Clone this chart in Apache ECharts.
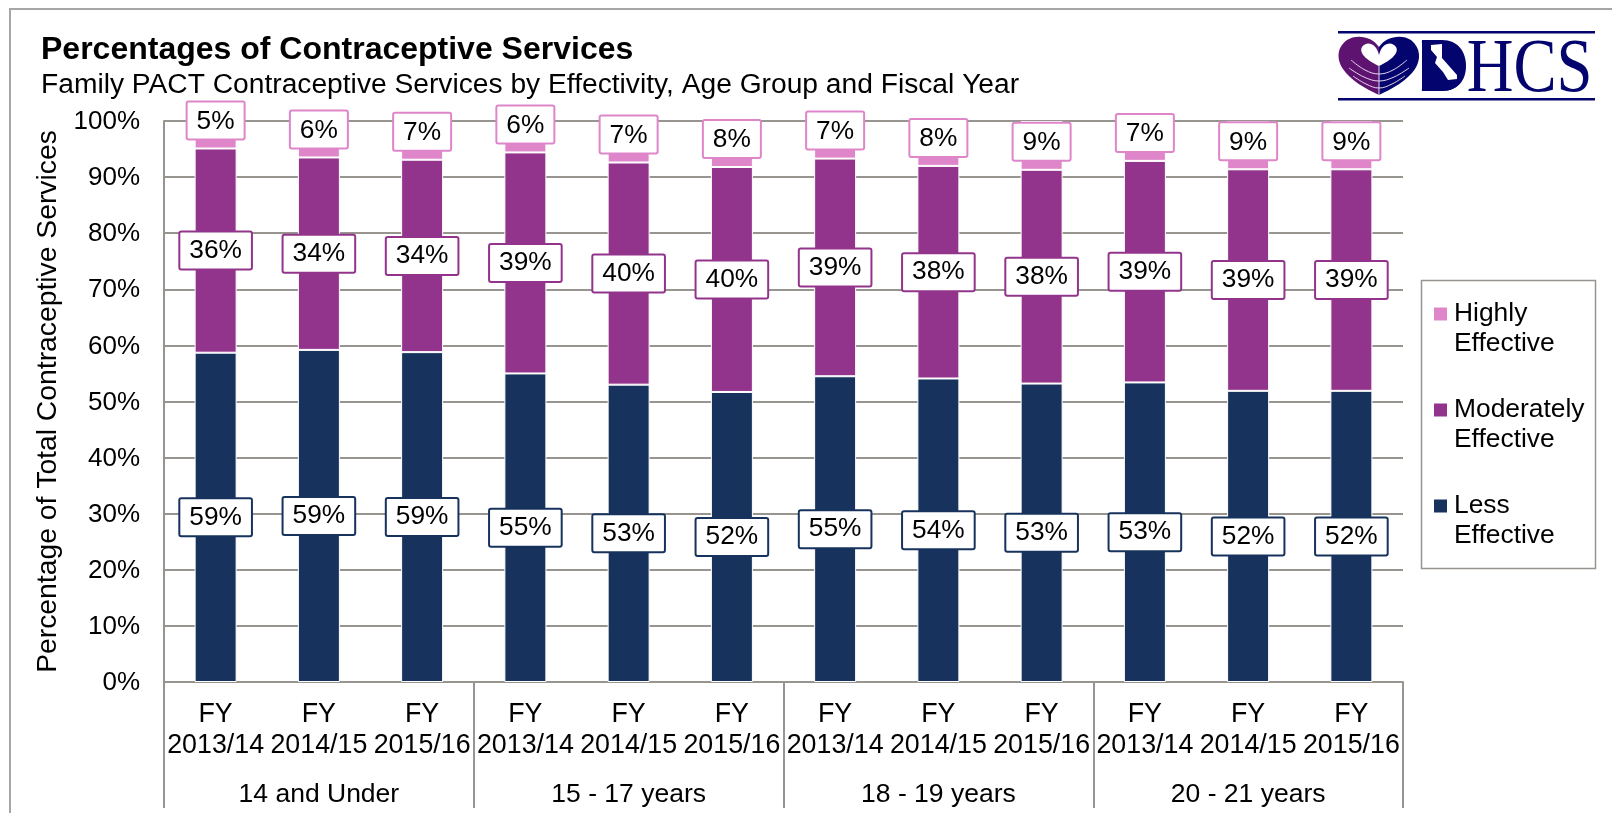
<!DOCTYPE html>
<html><head><meta charset="utf-8">
<style>html,body{margin:0;padding:0;background:#fff}#c{width:1612px;height:813px}</style>
<script src="https://cdn.jsdelivr.net/npm/echarts@6/dist/echarts.min.js"></script>
</head><body><div id="c"></div>
<script>
const fiscalYears = ['FY\n2013/14','FY\n2014/15','FY\n2015/16','FY\n2013/14','FY\n2014/15','FY\n2015/16','FY\n2013/14','FY\n2014/15','FY\n2015/16','FY\n2013/14','FY\n2014/15','FY\n2015/16'];
const ageGroups = ['14 and Under','15 - 17 years','18 - 19 years','20 - 21 years'];
const lessEffective = [58.7,59.2,58.8,55.0,53.0,51.7,54.5,54.1,53.2,53.4,51.9,51.9];
const moderatelyEffective = [36.4,34.3,34.3,39.4,39.6,40.1,38.8,37.9,38.1,39.49,39.49,39.49];
const highlyEffective = [4.9,6.4,6.9,5.6,7.4,8.2,6.7,8.0,8.7,7.11,8.61,8.61];
const FONT = '"Liberation Sans", Arial, sans-serif';
const GREY = '#98948f';
const NAVY = '#17325c', PURPLE = '#93348c', PINK = '#de86c9';

// logo outlines, drawn as decoration only
const logoPaths = {
  heartL: 'M1379 47 C1372 36 1356 34 1347 40 C1336 48 1337 60 1343 69 C1350 80 1366 89 1379 95 Z',
  heartR: 'M1379 47 C1386 36 1402 34 1411 40 C1421 48 1421 60 1415 69 C1408 80 1392 89 1379 95 Z',
  heartIn: 'M1379 66 C1370 62 1358 54 1362 47 C1366 41 1376 42 1379 55 C1382 42 1392 41 1396 47 C1400 54 1388 62 1379 66 Z',
  dFill: 'M1422 40 L1442 40 C1458 40 1466 52 1466 66 C1466 80 1458 91 1442 91 L1422 91 Z',
  calif: 'M1431 45 L1442 44 L1442 58 L1457 75 L1457 79 L1448 80 L1443 72 L1435 63 L1437 57 L1431 50 Z'
};
Object.keys(logoPaths).forEach(k => echarts.graphic.registerShape(k, echarts.graphic.extendPath(logoPaths[k])));

function makeSeries(name, data, color, pos, dist) {
  return {
    name, type: 'bar', stack: 'total', data, xAxisIndex: 0, yAxisIndex: 0,
    barWidth: 42,
    itemStyle: {color, borderColor: '#fff', borderWidth: 1},
    label: {
      show: true, position: pos, distance: dist,
      formatter: p => Math.round(p.value) + '%',
      fontFamily: FONT, fontSize: 26.3, color: '#000', lineHeight: 26,
      backgroundColor: '#fff', borderColor: color, borderWidth: 2, borderRadius: 1,
      padding: [6, 9, 4, 9]
    }
  };
}

const chart = echarts.init(document.getElementById('c'), null, {renderer: 'canvas'});
chart.setOption({
  animation: false,
  backgroundColor: '#fff',
  title: {
    text: 'Percentages of Contraceptive Services',
    subtext: 'Family PACT Contraceptive Services by Effectivity, Age Group and Fiscal Year',
    left: 41, top: 33, padding: 0, itemGap: 2,
    textStyle: {fontFamily: FONT, fontWeight: 'bold', fontSize: 32, color: '#000', lineHeight: 34},
    subtextStyle: {fontFamily: FONT, fontSize: 28.2, color: '#000', lineHeight: 32}
  },
  grid: {left: 164, right: 209, top: 121, bottom: 131, containLabel: false},
  xAxis: [{
    type: 'category', data: fiscalYears, position: 'bottom',
    axisLine: {show: true, lineStyle: {color: GREY, width: 2}},
    axisTick: {show: false},
    axisLabel: {interval: 0, margin: 17, fontFamily: FONT, fontSize: 26.8, color: '#000', lineHeight: 31}
  }, {
    type: 'category', data: ageGroups, position: 'bottom',
    axisLine: {show: false},
    axisTick: {show: true, length: 126, lineStyle: {color: GREY, width: 2}},
    axisLabel: {interval: 0, margin: 99, fontFamily: FONT, fontSize: 26.5, color: '#000'}
  }],
  yAxis: {
    type: 'value', min: 0, max: 100, interval: 10,
    name: 'Percentage of Total Contraceptive Services',
    nameLocation: 'middle', nameGap: 98,
    nameTextStyle: {fontFamily: FONT, fontSize: 28.3, color: '#000'},
    axisLine: {show: true, lineStyle: {color: GREY, width: 2}},
    axisTick: {show: false},
    splitLine: {show: true, lineStyle: {color: GREY, width: 2}},
    axisLabel: {margin: 24, color: '#000', formatter: v => '{v|' + v + '%}',
      rich: {v: {fontFamily: FONT, fontSize: 26, color: '#000', padding: [2, 0, 0, 0]}}}
  },
  legend: {
    orient: 'vertical', left: 1434, top: 269, padding: 0, itemGap: 6,
    itemWidth: 13, itemHeight: 13, icon: 'rect',
    data: ['Highly Effective', 'Moderately Effective', 'Less Effective'],
    formatter: n => '\n' + n.replace(' ', '\n'),
    itemStyle: {borderWidth: 0},
    selectedMode: false,
    textStyle: {fontFamily: FONT, fontSize: 26.4, color: '#000', lineHeight: 30, padding: [0, 0, 0, 2]}
  },
  series: [
    makeSeries('Less Effective', lessEffective, NAVY, 'inside', 0),
    makeSeries('Moderately Effective', moderatelyEffective, PURPLE, 'inside', 0),
    makeSeries('Highly Effective', highlyEffective, PINK, 'insideBottom', 10)
  ],
  graphic: [
    {type: 'polyline', silent: true, z: -1, shape: {points: [[10, 813], [10, 9], [1612, 9]]}, style: {stroke: '#a6a6a6', lineWidth: 2, fill: null}},
    {type: 'rect', silent: true, z: -1, shape: {x: 1421.5, y: 280.5, width: 174, height: 288}, style: {fill: '#fff', stroke: GREY, lineWidth: 1.5}},
    {type: 'rect', silent: true, shape: {x: 1338, y: 31, width: 257, height: 2.5}, style: {fill: '#04046e'}},
    {type: 'rect', silent: true, shape: {x: 1338, y: 98, width: 257, height: 2.5}, style: {fill: '#04046e'}},
    {type: 'heartL', silent: true, style: {fill: '#5e1370'}},
    {type: 'heartR', silent: true, style: {fill: '#04046e'}},
    {type: 'heartIn', silent: true, style: {fill: '#fff'}},
    {type: 'polyline', silent: true, shape: {points: [[1351, 60], [1365, 70], [1379, 74], [1393, 70], [1407, 60]], smooth: 0.4}, style: {stroke: '#e4d8ec', lineWidth: 1, fill: null}},
    {type: 'polyline', silent: true, shape: {points: [[1349, 68], [1364, 77], [1379, 81], [1394, 77], [1409, 68]], smooth: 0.4}, style: {stroke: '#e4d8ec', lineWidth: 1, fill: null}},
    {type: 'polyline', silent: true, shape: {points: [[1353, 76], [1366, 84], [1379, 88], [1392, 84], [1405, 76]], smooth: 0.4}, style: {stroke: '#e4d8ec', lineWidth: 1, fill: null}},
    {type: 'line', silent: true, shape: {x1: 1379, y1: 66, x2: 1379, y2: 95}, style: {stroke: '#e4d8ec', lineWidth: 1}},
    {type: 'text', silent: true, x: 1420, y: 32, scaleX: 0.84, scaleY: 1, z: 5, style: {text: 'DHCS', fontFamily: '"Liberation Serif", serif', fontSize: 77, fill: '#04046e'}},
    {type: 'dFill', silent: true, z: 6, style: {fill: '#04046e'}},
    {type: 'calif', silent: true, z: 7, style: {fill: '#fff'}}
  ]
});
</script></body></html>
